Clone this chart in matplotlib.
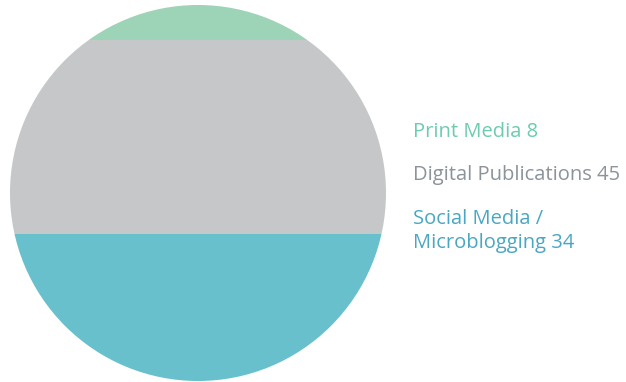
import matplotlib
matplotlib.use("Agg")
import matplotlib.pyplot as plt
from matplotlib.patches import Circle

categories = ["Social Media /\nMicroblogging", "Digital Publications", "Print Media"]
values = [34, 45, 8]
fill_colors = ["#67c0cc", "#c6c7c9", "#9dd3b6"]
text_colors = ["#4aa7c2", "#8c9399", "#6dcbb0"]

W, H = 626, 382
fig = plt.figure(figsize=(W / 100, H / 100), dpi=100)
total = sum(values)
ax = fig.add_axes([10 / W, 1 - 381 / H, 376 / W, 376 / H])
ax.set_xlim(0, total)
ax.set_ylim(0, total)
ax.set_aspect("equal")
ax.axis("off")

clip = Circle((total / 2, total / 2), total / 2, transform=ax.transData, facecolor="none", edgecolor="none")
ax.add_patch(clip)
bottom = 0
for v, c in zip(values, fill_colors):
    bars = ax.bar(total / 2, v, bottom=bottom, width=total, color=c, edgecolor="none")
    for b in bars:
        b.set_clip_path(clip)
    bottom += v

# labels: baseline of last line
label_y = {"Print Media": 137, "Digital Publications": 180, "Social Media /\nMicroblogging": 248}
for cat, v, tc in zip(categories, values, text_colors):
    y = label_y[cat]
    fig.text(413 / W, 1 - y / H, f"{cat} {v}", color=tc, fontsize=14.5, family="Open Sans",
             ha="left", va="baseline", linespacing=1.3)

fig.savefig("out.png", dpi=100)
